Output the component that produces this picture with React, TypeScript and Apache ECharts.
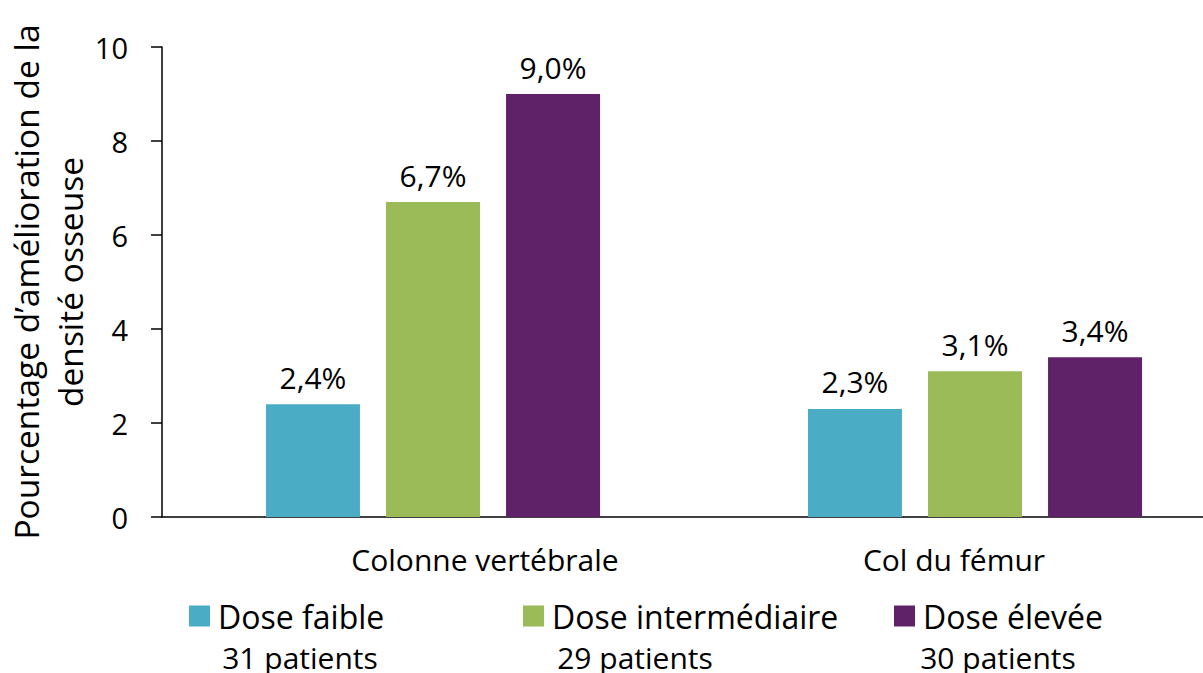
import React, { useEffect, useRef } from "react";
import * as echarts from "echarts";

const categories = ["Colonne vertébrale", "Col du fémur"];
const seriesNames = ["Dose faible", "Dose intermédiaire", "Dose élevée"];
const doseFaible = [2.4, 2.3];
const doseIntermediaire = [6.7, 3.1];
const doseElevee = [9.0, 3.4];
const patients = [31, 29, 30];
const yTicks = { min: 0, max: 10, interval: 2 };
const yAxisTitle = "Pourcentage d’amélioration de la\ndensité osseuse";

const colors = ["#4BACC6", "#9BBB59", "#5F2167"];
const FONT = "Open Sans";

export default function App() {
  const ref = useRef<HTMLDivElement>(null);
  useEffect(() => {
    if (!ref.current) return;
    const chart = echarts.init(ref.current, undefined, { renderer: "svg" });
    const values = [doseFaible, doseIntermediaire, doseElevee];
    const legendLefts = [189, 523, 894];
    const patientCenters = [300, 635, 998];
    const fmt = (v: number) => v.toFixed(1).replace(".", ",") + "%";
    chart.setOption({
      animation: false,
      textStyle: { fontFamily: FONT },
      grid: {
        left: 162,
        top: 47,
        bottom: 156,
        right: -43,
        containLabel: false,
        outerBoundsMode: "none",
      },
      xAxis: {
        type: "category",
        data: categories,
        axisLine: { show: true, lineStyle: { color: "#000", width: 1.5 } },
        axisTick: { show: false },
        axisLabel: {
          margin: 27,
          color: "#000",
          fontFamily: FONT,
          fontSize: 30,
          formatter: (v: string, i: number) => `{c${i}|${v}}`,
          rich: {
            c0: { fontFamily: FONT, fontSize: 30, color: "#000", padding: [0, 0, 0, 104] },
            c1: { fontFamily: FONT, fontSize: 30, color: "#000", padding: [0, 42, 0, 0] },
          },
        },
      },
      yAxis: {
        type: "value",
        min: yTicks.min,
        max: yTicks.max,
        interval: yTicks.interval,
        name: yAxisTitle,
        nameLocation: "middle",
        nameRotate: 90,
        nameGap: 70,
        nameMoveOverlap: false,
        nameTextStyle: { fontFamily: FONT, fontSize: 33.5, lineHeight: 44, color: "#000" },
        axisLine: { show: true, lineStyle: { color: "#000", width: 1.5 } },
        axisTick: { show: true, length: 11, lineStyle: { color: "#000", width: 1.5 } },
        splitLine: { show: false },
        axisLabel: { margin: 34, color: "#000", fontFamily: FONT, fontSize: 29 },
      },
      legend: seriesNames.map((n, i) => ({
        data: [n],
        left: legendLefts[i],
        top: 600,
        itemWidth: 21,
        itemHeight: 21,
        icon: "rect",
        padding: 0,
        textStyle: { fontFamily: FONT, fontSize: 32, color: "#000", padding: [0, 0, 0, 3] },
      })),
      series: seriesNames.map((n, i) => ({
        name: n,
        type: "bar",
        data: values[i],
        barWidth: 94,
        barGap: "27.7%",
        itemStyle: { color: colors[i] },
        label: {
          show: true,
          position: "top",
          distance: 12,
          color: "#000",
          fontFamily: FONT,
          fontSize: 30,
          formatter: (p: any) => fmt(p.value),
        },
      })),
      graphic: patients.map((p, i) => ({
        type: "text",
        x: patientCenters[i],
        y: 642,
        style: {
          text: `${p} patients`,
          fontFamily: FONT,
          fontSize: 30,
          fill: "#000",
          textAlign: "center",
          textVerticalAlign: "top",
        },
      })),
    });
    return () => chart.dispose();
  }, []);
  return (
    <div
      ref={ref}
      style={{ position: "fixed", left: 0, top: 0, width: 1203, height: 673, background: "#fff" }}
    />
  );
}
